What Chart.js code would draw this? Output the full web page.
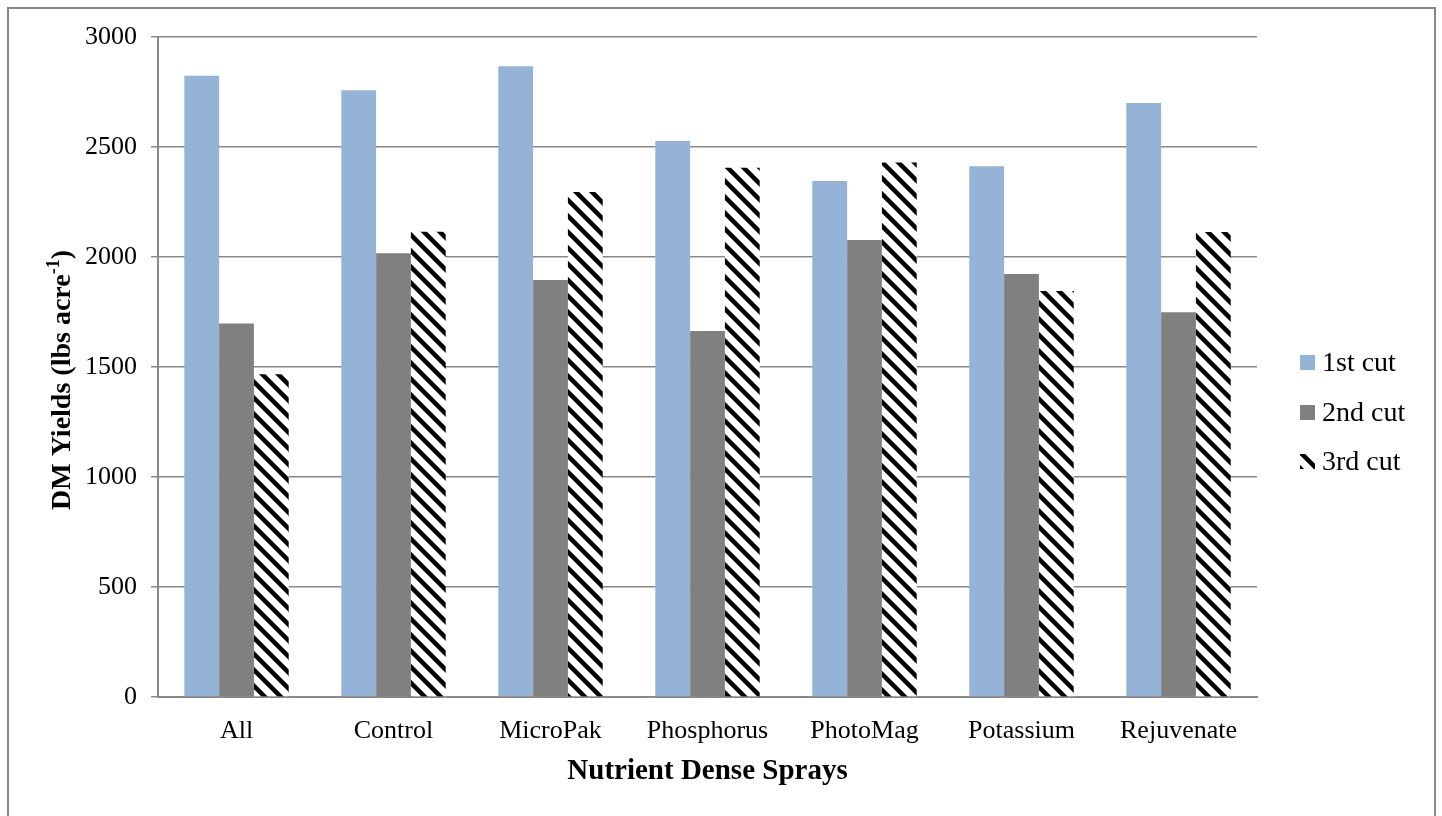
<!DOCTYPE html>
<html>
<head>
<meta charset="utf-8">
<script src="https://cdn.jsdelivr.net/npm/chart.js@4"></script>
<style>
  html, body { margin: 0; padding: 0; background: #fff; }
  #wrap { width: 1442px; height: 816px; }
</style>
</head>
<body>
<div id="wrap"><canvas id="yields" width="1442" height="816"></canvas></div>
<script>
const sprays = ['All', 'Control', 'MicroPak', 'Phosphorus', 'PhotoMag', 'Potassium', 'Rejuvenate'];
const cut1 = [2824, 2758, 2867, 2527, 2345, 2412, 2700];
const cut2 = [1698, 2017, 1895, 1664, 2077, 1923, 1749];
const cut3 = [1467, 2115, 2295, 2406, 2430, 1845, 2114];
const yTicks = [0, 500, 1000, 1500, 2000, 2500, 3000];

const serif = '"Liberation Serif", "Times New Roman", serif';
const gridGray = '#888888';

// black / white diagonal hatch for 3rd cut
const makeHatch = () => {
  const c = document.createElement('canvas');
  c.width = 16;
  c.height = 16;
  const g = c.getContext('2d');
  g.fillStyle = '#fff';
  g.fillRect(0, 0, 16, 16);
  g.strokeStyle = '#000';
  g.lineWidth = 4.5;
  for (let o = -16; o <= 16; o += 16) {
    g.beginPath();
    g.moveTo(o - 2, -2);
    g.lineTo(o + 18, 18);
    g.stroke();
  }
  return g.createPattern(c, 'repeat');
};

const hatch = makeHatch();

// frame, axis titles and legend
const decor = {
  id: 'decor',
  afterDraw(chart) {
    const ctx = chart.ctx;
    const area = chart.chartArea;
    ctx.save();

    ctx.strokeStyle = gridGray;
    ctx.lineWidth = 2;
    ctx.strokeRect(8, 8, 1427, 830);

    ctx.fillStyle = '#000';
    ctx.font = 'bold 29px ' + serif;
    ctx.textAlign = 'center';
    ctx.textBaseline = 'alphabetic';
    ctx.fillText('Nutrient Dense Sprays', (area.left + area.right) / 2, 779);

    // rotated y title with superscript
    ctx.translate(70, 380);
    ctx.rotate(-Math.PI / 2);
    const main = 'DM Yields (lbs acre';
    const sup = '-1';
    const tail = ')';
    ctx.font = 'bold 28px ' + serif;
    const wMain = ctx.measureText(main).width;
    const wTail = ctx.measureText(tail).width;
    ctx.font = 'bold 18px ' + serif;
    const wSup = ctx.measureText(sup).width;
    let x = -(wMain + wSup + wTail) / 2;
    ctx.textAlign = 'left';
    ctx.font = 'bold 28px ' + serif;
    ctx.fillText(main, x, 0);
    x += wMain;
    ctx.font = 'bold 18px ' + serif;
    ctx.fillText(sup, x, -11);
    x += wSup;
    ctx.font = 'bold 28px ' + serif;
    ctx.fillText(tail, x, 0);
    ctx.setTransform(1, 0, 0, 1, 0, 0);

    // legend
    const rows = [363, 413, 462];
    ctx.font = '28px ' + serif;
    ctx.textBaseline = 'middle';
    chart.data.datasets.forEach((ds, i) => {
      ctx.fillStyle = ds.backgroundColor;
      ctx.fillRect(1300, rows[i] - 8, 15, 15);
      ctx.fillStyle = '#000';
      ctx.fillText(ds.label, 1322, rows[i] + 1);
    });
    ctx.restore();
  }
};

const ctx1 = document.getElementById('yields').getContext('2d');

const myChart = new Chart(ctx1, {
  type: 'bar',
  data: {
    labels: sprays,
    datasets: [
      { label: '1st cut', data: cut1, backgroundColor: '#95b3d7' },
      { label: '2nd cut', data: cut2, backgroundColor: '#808080' },
      { label: '3rd cut', data: cut3, backgroundColor: hatch }
    ]
  },
  options: {
    responsive: false,
    animation: false,
    events: [],
    layout: { padding: { left: 0, right: 185, top: 37, bottom: 0 } },
    datasets: {
      bar: { categoryPercentage: 0.665, barPercentage: 1.0, borderWidth: 0 }
    },
    plugins: {
      legend: { display: false },
      tooltip: { enabled: false }
    },
    scales: {
      x: {
        grid: { display: false },
        border: { display: true, color: gridGray, width: 2 },
        ticks: { color: '#000', font: { family: serif, size: 26 }, padding: 11, maxRotation: 0 },
        afterFit: (scale) => { scale.height = 119; }
      },
      y: {
        min: 0,
        max: 3000,
        afterBuildTicks: (scale) => { scale.ticks = yTicks.map(v => ({ value: v })); },
        grid: { color: gridGray, lineWidth: 1.5, tickLength: 7 },
        border: { display: true, color: gridGray, width: 2 },
        ticks: {
          color: '#000',
          font: { family: serif, size: 26 },
          padding: 14,
          callback: (v) => String(v)
        },
        afterFit: (scale) => { scale.width = 158; }
      }
    }
  },
  plugins: [decor]
});
</script>
</body>
</html>
